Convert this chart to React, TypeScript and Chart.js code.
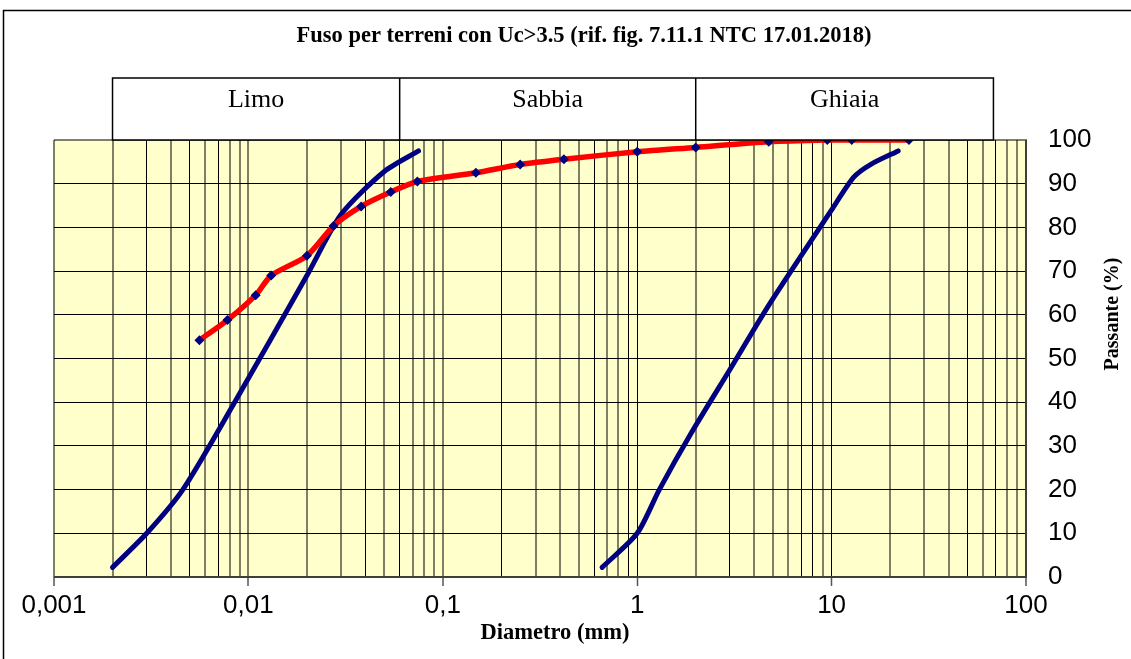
import React, { useEffect, useRef } from "react";
import { Chart, registerables } from "chart.js";

Chart.register(...registerables);

// ---- data ----
const TITLE = "Fuso per terreni con Uc>3.5 (rif. fig. 7.11.1 NTC 17.01.2018)";
const X_TITLE = "Diametro (mm)";
const Y_TITLE = "Passante (%)";

const X_TICK_LABELS = ["0,001", "0,01", "0,1", "1", "10", "100"];
const Y_MIN = 0;
const Y_MAX = 100;
const Y_STEP = 10;

const CLASS_NAMES = ["Limo", "Sabbia", "Ghiaia"];
const CLASS_BOUNDS = [0.002, 0.06, 2, 68];

// upper (fine) envelope of the band
const FINE_X = [0.002, 0.003, 0.0046, 0.0085, 0.02, 0.03, 0.05, 0.075];
const FINE_Y = [2.2, 10, 20, 40, 69, 83, 92.8, 97.5];

// lower (coarse) envelope of the band
const COARSE_X = [0.66, 1, 1.3, 1.9, 3, 4.8, 10, 13, 16, 22];
const COARSE_Y = [2.2, 10, 20, 33, 47.5, 62.5, 84, 91.5, 94.5, 97.5];

// measured grading curve
const SAMPLE_X = [0.0056, 0.0078, 0.0109, 0.0131, 0.02, 0.0274, 0.038, 0.054, 0.074, 0.148, 0.25, 0.42, 1, 2, 4.75, 9.5, 12.7, 25];
const SAMPLE_Y = [54.2, 58.8, 64.5, 69, 73.5, 80.3, 84.8, 88.1, 90.5, 92.5, 94.4, 95.6, 97.3, 98.3, 99.6, 100, 100, 100];

// grid values (1..9 x 10^n)
const X_GRID: number[] = [];
for (let e = -3; e <= 1; e++) {
  for (let m = 1; m <= 9; m++) X_GRID.push(Number((m * Math.pow(10, e)).toPrecision(6)));
}
X_GRID.push(100);

// gridlines that appear black in the original (the rest are grey)
const BLACK_GRID = [0.003, 0.005, 0.007, 0.04, 0.06, 0.2, 0.6, 0.9, 1, 3, 7, 8, 10, 50, 70];

const W = 1131;
const H = 659;
const GREY = "rgba(0,0,0,0.5)";
const SERIF = "'Liberation Serif', 'Times New Roman', serif";
const SANS = "'Liberation Sans', Arial, sans-serif";

const pts = (xs: number[], ys: number[]) => xs.map((x, i) => ({ x, y: ys[i] }));

const isBlack = (v: number) => BLACK_GRID.some((b) => Math.abs(b - v) / b < 1e-6);

const decorPlugin = {
  id: "decor",
  beforeDraw(chart: any) {
    const { ctx, chartArea } = chart;
    ctx.save();
    ctx.fillStyle = "#ffffff";
    ctx.fillRect(0, 0, W, H);
    ctx.fillStyle = "#FFFFCC";
    ctx.fillRect(chartArea.left, chartArea.top, chartArea.right - chartArea.left, chartArea.bottom - chartArea.top);
    ctx.restore();
  },
  afterDraw(chart: any) {
    const { ctx, chartArea } = chart;
    const xs = chart.scales.x;
    ctx.save();
    // outer frame
    ctx.strokeStyle = "#000";
    ctx.lineWidth = 1.5;
    ctx.beginPath();
    ctx.moveTo(3.5, H + 5);
    ctx.lineTo(3.5, 10.5);
    ctx.lineTo(W + 5, 10.5);
    ctx.stroke();

    // title
    ctx.fillStyle = "#000";
    ctx.font = `bold 22.5px ${SERIF}`;
    ctx.textAlign = "center";
    ctx.textBaseline = "middle";
    ctx.fillText(TITLE, 584, 36);

    // class table
    const top = 78;
    const bottom = chartArea.top;
    const px = CLASS_BOUNDS.map((b) => xs.getPixelForValue(b));
    ctx.fillStyle = "#fff";
    ctx.fillRect(px[0], top, px[px.length - 1] - px[0], bottom - top);
    ctx.strokeStyle = "#000";
    ctx.lineWidth = 1.5;
    ctx.strokeRect(px[0], top, px[px.length - 1] - px[0], bottom - top);
    ctx.beginPath();
    for (let i = 1; i < px.length - 1; i++) {
      ctx.moveTo(px[i], top);
      ctx.lineTo(px[i], bottom);
    }
    ctx.stroke();
    ctx.fillStyle = "#000";
    ctx.font = `26px ${SERIF}`;
    for (let i = 0; i < CLASS_NAMES.length; i++) {
      ctx.fillText(CLASS_NAMES[i], (px[i] + px[i + 1]) / 2, 100);
    }

    // axis titles
    ctx.font = `bold 22.5px ${SERIF}`;
    ctx.fillText(X_TITLE, 555, 633);
    ctx.font = `bold 20px ${SERIF}`;
    ctx.save();
    ctx.translate(1113, 314);
    ctx.rotate(-Math.PI / 2);
    ctx.fillText(Y_TITLE, 0, 0);
    ctx.restore();
    ctx.restore();
  },
};

export default function App() {
  const ref = useRef<HTMLCanvasElement | null>(null);

  useEffect(() => {
    if (!ref.current) return;
    const chart = new Chart(ref.current, {
      type: "line",
      data: {
        datasets: [
          {
            label: "Campione",
            data: pts(SAMPLE_X, SAMPLE_Y),
            borderColor: "#FF0000",
            borderWidth: 5.5,
            tension: 0.25,
            pointStyle: "rectRot",
            pointRadius: 5,
            pointBackgroundColor: "#000080",
            pointBorderColor: "#000080",
            pointBorderWidth: 0,
          },
          {
            label: "Fuso fine",
            data: pts(FINE_X, FINE_Y),
            borderColor: "#000080",
            borderWidth: 5,
            tension: 0.25,
            pointRadius: 0,
            borderCapStyle: "round",
          },
          {
            label: "Fuso grosso",
            data: pts(COARSE_X, COARSE_Y),
            borderColor: "#000080",
            borderWidth: 5,
            tension: 0.25,
            pointRadius: 0,
            borderCapStyle: "round",
          },
        ],
      },
      options: {
        responsive: false,
        animation: false,
        layout: { padding: { left: 54, top: 140, right: 0, bottom: 0 } },
        plugins: {
          legend: { display: false },
          tooltip: { enabled: false },
          title: { display: false },
        },
        scales: {
          x: {
            type: "logarithmic",
            min: 0.001,
            max: 100,
            afterBuildTicks: (scale: any) => {
              scale.ticks = X_GRID.map((v) => ({ value: v }));
            },
            afterFit: (scale: any) => {
              scale.height = H - 577;
            },
            ticks: {
              autoSkip: false,
              maxRotation: 0,
              padding: 4,
              color: "#000",
              font: { family: SANS, size: 26 },
              callback: (_v: any, index: number) => (index % 9 === 0 ? X_TICK_LABELS[index / 9] : ""),
            },
            grid: {
              color: (c: any) => {
                const v = c.tick ? c.tick.value : 0;
                if (c.index === 0 || c.index === X_GRID.length - 1) return GREY;
                return isBlack(v) ? "#000" : GREY;
              },
              lineWidth: (c: any) => {
                const v = c.tick ? c.tick.value : 0;
                if (c.index === 0 || c.index === X_GRID.length - 1) return 2;
                return isBlack(v) ? 1 : 2;
              },
              tickColor: (c: any) => (c.index % 9 === 0 ? "#555" : "rgba(0,0,0,0)"),
              tickLength: 9,
              tickWidth: 1.5,
            },
            border: { color: GREY, width: 2 },
          },
          y: {
            position: "right",
            min: Y_MIN,
            max: Y_MAX,
            afterFit: (scale: any) => {
              scale.width = W - 1026;
            },
            ticks: {
              stepSize: Y_STEP,
              padding: 22,
              color: "#000",
              font: { family: SANS, size: 26 },
            },
            grid: {
              drawTicks: false,
              color: (c: any) => (c.tick && (c.tick.value === Y_MIN || c.tick.value === Y_MAX) ? GREY : "#000"),
              lineWidth: (c: any) => (c.tick && (c.tick.value === Y_MIN || c.tick.value === Y_MAX) ? 2 : 1),
            },
            border: { color: GREY, width: 2 },
          },
        },
      },
      plugins: [decorPlugin],
    } as any);
    return () => chart.destroy();
  }, []);

  return (
    <div style={{ position: "fixed", left: 0, top: 0, width: W, height: H, background: "#fff" }}>
      <canvas ref={ref} width={W} height={H} style={{ display: "block" }} />
    </div>
  );
}
